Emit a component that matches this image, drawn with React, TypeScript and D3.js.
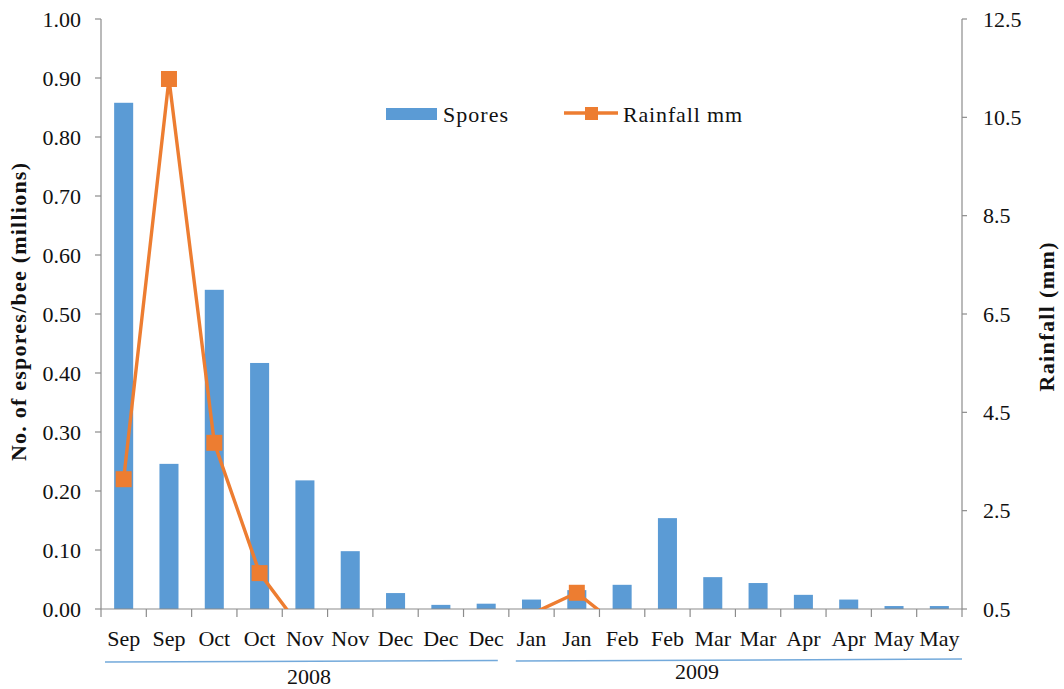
import React from "react";
import * as d3 from "d3";

const categories = ["Sep","Sep","Oct","Oct","Nov","Nov","Dec","Dec","Dec","Jan","Jan","Feb","Feb","Mar","Mar","Apr","Apr","May","May"];
const spores = [0.858,0.246,0.541,0.417,0.218,0.098,0.027,0.007,0.009,0.016,0.032,0.041,0.154,0.054,0.044,0.024,0.016,0.005,0.005];
const rainfall = [3.14,11.28,3.88,1.23,0,0,0,0,0,0.4,0.83,0.1,0,0,0,0,0,0,0];
const leftTicks = [0,0.1,0.2,0.3,0.4,0.5,0.6,0.7,0.8,0.9,1.0];
const rightTicks = [0.5,2.5,4.5,6.5,8.5,10.5,12.5];
const years = [
  { label: "2008", from: 0, to: 9 },
  { label: "2009", from: 9, to: 19 },
];

const FONT = "'Liberation Serif', 'Times New Roman', serif";
const BLUE = "#5b9bd5";
const ORANGE = "#ed7d31";
const AXIS = "#8c8c8c";

export default function App() {
  const W = 1064, H = 689;
  const left = 101, right = 962, top = 19, bottom = 609;
  const idx = categories.map((_, i) => String(i));
  const x = d3.scaleBand<string>().domain(idx).range([left, right]).paddingInner(0.58).paddingOuter(0.29);
  const xb = d3.scaleBand<string>().domain(idx).range([left, right]);
  const yL = d3.scaleLinear().domain([0, 1]).range([bottom, top]);
  const yR = d3.scaleLinear().domain([0.5, 12.5]).range([bottom, top]);
  const cx = (i: number) => (xb(String(i)) as number) + xb.bandwidth() / 2;
  const line = d3.line<number>().x((_, i) => cx(i)).y((d) => yR(d));
  const boundaries = d3.range(categories.length + 1).map((i) => left + i * xb.bandwidth());
  const ms = 16;

  return (
    <svg width={W} height={H} style={{ position: "absolute", left: 0, top: 0, background: "#fff" }} fontFamily={FONT}>
      <defs>
        <clipPath id="plot">
          <rect x={left} y={top - 10} width={right - left} height={bottom - top + 10} />
        </clipPath>
      </defs>
      {/* bars */}
      {spores.map((v, i) => (
        <rect key={i} x={x(String(i))} y={yL(v)} width={x.bandwidth()} height={bottom - yL(v)} fill={BLUE} />
      ))}
      {/* axes */}
      <line x1={left} x2={left} y1={top} y2={bottom} stroke={AXIS} strokeWidth={1.2} />
      <line x1={right} x2={right} y1={top} y2={bottom} stroke={AXIS} strokeWidth={1.2} />
      <line x1={left} x2={right} y1={bottom} y2={bottom} stroke={AXIS} strokeWidth={1.2} />
      {leftTicks.map((t) => (
        <g key={"l" + t}>
          <line x1={left - 6} x2={left} y1={yL(t)} y2={yL(t)} stroke={AXIS} strokeWidth={1.2} />
          <text x={81} y={yL(t) + 7.5} textAnchor="end" fontSize={22} fill="#111">{t.toFixed(2)}</text>
        </g>
      ))}
      {rightTicks.map((t) => (
        <g key={"r" + t}>
          <line x1={right} x2={right + 5} y1={yR(t)} y2={yR(t)} stroke={AXIS} strokeWidth={1.2} />
          <text x={983} y={yR(t) + 7.5} textAnchor="start" fontSize={22} fill="#111">{t.toFixed(1)}</text>
        </g>
      ))}
      {boundaries.map((b, i) => (
        <line key={"b" + i} x1={b} x2={b} y1={bottom} y2={bottom + 8} stroke={AXIS} strokeWidth={1.2} />
      ))}
      {categories.map((c, i) => (
        <text key={"c" + i} x={cx(i)} y={646} textAnchor="middle" fontSize={22} fill="#111">{c}</text>
      ))}
      {/* year groups */}
      {years.map((yv, k) => {
        const x1 = boundaries[yv.from] + (k === 0 ? 4 : 7);
        const x2 = boundaries[yv.to] - (k === 0 ? 11 : 0);
        return (
          <g key={yv.label}>
            <line x1={x1} x2={x2} y1={k === 0 ? 662 : 661} y2={k === 0 ? 660.5 : 659} stroke={BLUE} strokeWidth={1.5} opacity={0.85} />
            <text x={k === 0 ? 309 : 697} y={k === 0 ? 684 : 679} textAnchor="middle" fontSize={22} fill="#111">{yv.label}</text>
          </g>
        );
      })}
      {/* rainfall line */}
      <g clipPath="url(#plot)">
        <path d={line(rainfall) as string} fill="none" stroke={ORANGE} strokeWidth={3.4} strokeLinejoin="round" />
      </g>
      {rainfall.map((v, i) =>
        v >= 0.5 ? (
          <rect key={"m" + i} x={cx(i) - ms / 2} y={yR(v) - ms / 2} width={ms} height={ms} fill={ORANGE} />
        ) : null
      )}
      {/* legend */}
      <rect x={386} y={108} width={51} height={12} fill={BLUE} />
      <text x={443} y={122} fontSize={22} fill="#111" textLength={65}>Spores</text>
      <line x1={564} x2={618} y1={113} y2={113} stroke={ORANGE} strokeWidth={3.4} />
      <rect x={585} y={107} width={13} height={13} fill={ORANGE} />
      <text x={623} y={122} fontSize={22} fill="#111" textLength={119}>Rainfall mm</text>
      {/* axis titles */}
      <text transform={`translate(26,312) rotate(-90)`} textAnchor="middle" fontSize={22} fontWeight="bold" fill="#111" textLength={298}>No. of espores/bee (millions)</text>
      <text transform={`translate(1054,317) rotate(-90)`} textAnchor="middle" fontSize={22} fontWeight="bold" fill="#111" textLength={149}>Rainfall (mm)</text>
    </svg>
  );
}
